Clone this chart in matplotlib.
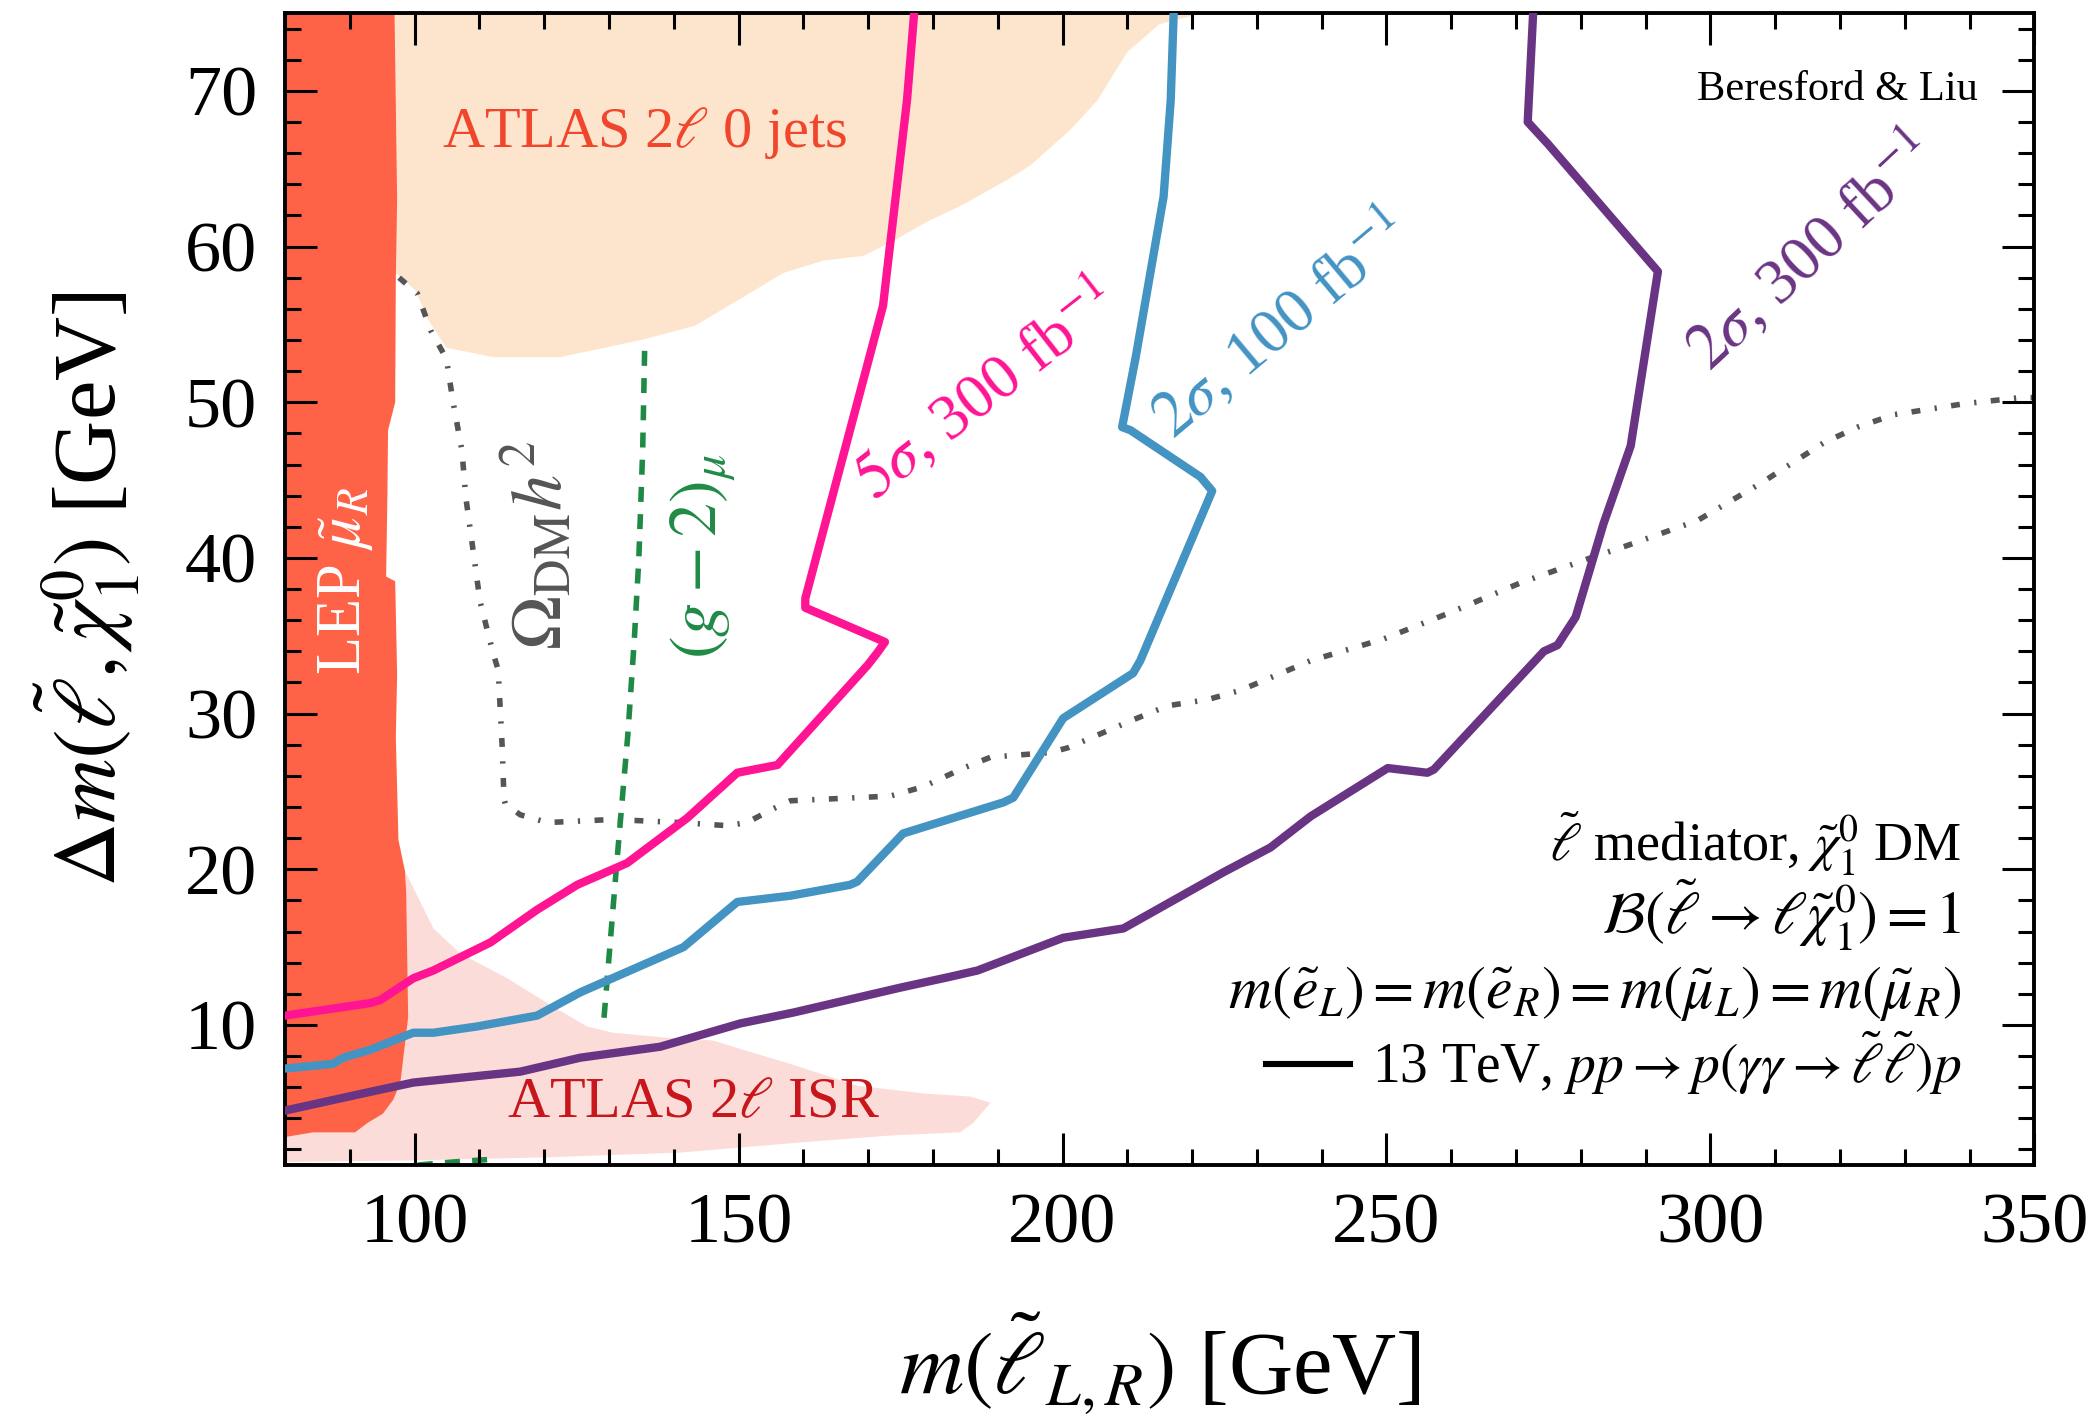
import matplotlib
matplotlib.use("Agg")
import matplotlib.pyplot as plt
from matplotlib.ticker import MultipleLocator
from matplotlib.lines import Line2D

plt.rcParams['font.family'] = ['Liberation Serif', 'DejaVu Serif']
plt.rcParams['mathtext.fontset'] = 'stix'

# excluded regions (x = slepton mass, y = mass splitting, GeV)
lep_x = [80, 96.9, 97.3, 97.1, 97.0, 95.9, 95.8, 95.6, 97.0, 97.3, 97.1, 97.5, 98.5,
         98.7, 99.0, 97.8, 96.7, 95.1, 92.7, 90.8, 88.5, 84.3, 80]
lep_y = [75, 75, 63, 58, 50, 48.2, 44, 38.8, 38.5, 32.5, 28.5, 21.9, 19.9,
         18.5, 10.5, 6.3, 5.2, 4.3, 3.7, 3.1, 3.1, 3.1, 2.8]

isr_x = [80, 99.8, 120.5, 141.0, 158.0, 173.4, 184.2, 186.2, 188.9, 185.8, 178.5, 168.3,
         158.0, 152.3, 146.1, 138.4, 130.6, 126.6, 120.5, 114.3, 107.0, 102.9, 98.5, 97, 80]
isr_y = [1.2, 1.3, 1.5, 1.8, 2.4, 2.9, 3.1, 3.7, 5.0, 5.4, 5.6, 6.1,
         7.5, 8.2, 9.0, 9.2, 9.5, 9.9, 11.4, 13.0, 14.6, 16.2, 19.9, 22, 22]

zeroj_x = [90, 222, 215, 210, 205.4, 201.2, 195.0, 191.5, 184.7, 179.1, 174.5, 169.3, 163.1,
           156.9, 150.1, 143.2, 135.0, 122.5, 112.1, 104.9, 102.1, 100.1, 97.1, 90]
zeroj_y = [75, 75, 74.3, 72.5, 69.4, 67.5, 65.2, 64.3, 62.7, 61.6, 60.5, 59.4, 59.1,
           58.3, 56.6, 54.9, 54.0, 52.9, 52.9, 53.5, 55.3, 57.2, 58.3, 58.3]

# projected sensitivity contours
s5_300_x = [80, 93.1, 94.7, 99.8, 102.9, 111.7, 118.9, 125.1, 132.8, 142.1, 149.8, 156.0,
            169.9, 171.4, 172.6, 160.3, 160.3, 172.3, 173.1, 176.0, 177.2]
s5_300_y = [10.6, 11.4, 11.6, 13.0, 13.5, 15.3, 17.4, 19.0, 20.4, 23.3, 26.2, 26.7,
            33.1, 33.9, 34.6, 36.8, 37.4, 56.2, 59.1, 69.4, 75.5]

s2_100_x = [80, 87.4, 89.0, 93.1, 99.8, 102.9, 109.6, 118.9, 125.6, 141.5, 149.8, 158.0,
            167.2, 168.3, 175.4, 190.9, 192.4, 200.1, 210.9, 212.0, 223.1, 221.3, 210.5,
            209.2, 211.3, 215.6, 216.7, 217.2]
s2_100_y = [7.2, 7.5, 7.9, 8.4, 9.5, 9.5, 9.9, 10.6, 12.1, 15.0, 17.9, 18.3,
            19.0, 19.2, 22.3, 24.3, 24.6, 29.7, 32.6, 33.4, 44.3, 45.2, 48.2,
            48.4, 52.9, 63.2, 69.4, 75.5]

s2_300_x = [80, 92.0, 99.8, 116.3, 125.6, 137.9, 150.3, 158.5, 175.0, 182.7, 186.9, 200.1,
            209.4, 224.8, 232.1, 238.3, 250.2, 256.3, 257.3, 274.3, 276.4, 279.2, 283.5,
            287.7, 291.9, 274.9, 271.8, 272.7]
s2_300_y = [4.5, 5.6, 6.3, 7.0, 7.9, 8.6, 10.1, 10.8, 12.4, 13.1, 13.5, 15.6,
            16.2, 19.8, 21.4, 23.4, 26.5, 26.2, 26.4, 34.0, 34.4, 36.2, 42.2,
            47.2, 58.4, 66.6, 68.0, 75.5]

# relic density and muon g-2 contours
relic_x = [97.6, 100.4, 102.5, 104.9, 105.9, 107.3, 107.9, 110.1, 112.1, 112.9, 113.5, 113.8,
           114.0, 116.3, 120.5, 130.6, 141.0, 148.3, 151.3, 155.4, 158.0, 173.4, 178.5,
           184.7, 188.9, 198.1, 200.8, 210.9, 216.2, 222.4, 227.5, 233.2, 238.3, 249.6,
           259.9, 270.7, 281.5, 287.2, 298.0, 307.8, 317.5, 322.7, 328.3, 339.1, 347.9, 350]
relic_y = [58.0, 57.0, 54.6, 52.8, 50.1, 46.9, 43.9, 37.2, 33.9, 32.8, 28.0, 24.5,
           24.2, 23.5, 23.0, 23.2, 23.0, 22.8, 23.0, 23.9, 24.4, 24.7, 25.3,
           26.5, 27.2, 27.5, 27.8, 29.6, 30.5, 30.9, 31.5, 32.5, 33.4, 34.8,
           36.5, 38.4, 40.0, 40.8, 42.4, 44.8, 47.4, 48.4, 49.2, 49.9, 50.3, 50.3]

gm2_x = [135.5, 135.2, 134.6, 133.9, 132.9, 131.2, 129.1]
gm2_y = [53.3, 46.9, 39.9, 34.7, 28.6, 20.4, 9.8]
gm2_low_x = [100.5, 106, 113]
gm2_low_y = [1.0, 1.2, 1.4]

c_lep = '#ff6347'
c_isr = '#fbdcd8'
c_0j = '#fde5cd'
c_pink = '#ff1493'
c_blue = '#4393c3'
c_purp = '#6a3484'
c_gray = '#555555'
c_green = '#1f8a45'

fig = plt.figure(figsize=(10.495, 7.085), dpi=200)
ax = fig.add_axes([0.1358, 0.1778, 0.8334, 0.8130])

ax.fill(isr_x, isr_y, color=c_isr, lw=0, zorder=1)
ax.fill(zeroj_x, zeroj_y, color=c_0j, lw=0, zorder=1)
ax.fill(lep_x, lep_y, color=c_lep, lw=0, zorder=1.2)

ax.plot(relic_x, relic_y, color=c_gray, lw=2.0, dashes=(1.6, 2.6, 0.4, 2.6), zorder=2)
ax.plot(gm2_x, gm2_y, color=c_green, lw=2.0, dashes=(2.7, 2.2), zorder=2)
ax.plot(gm2_low_x, gm2_low_y, color=c_green, lw=2.0, dashes=(2.7, 2.2), zorder=2)

ax.plot(s5_300_x, s5_300_y, color=c_pink, lw=3.0, zorder=3)
ax.plot(s2_100_x, s2_100_y, color=c_blue, lw=3.0, zorder=3)
ax.plot(s2_300_x, s2_300_y, color=c_purp, lw=3.0, zorder=3)

# region and contour labels
ax.text(104.2, 67.3, r'ATLAS 2$\ell$ 0 jets', color='#f0462c', fontsize=21,
        ha='left', va='center', zorder=4)
ax.text(114.3, 5.0, r'ATLAS 2$\ell$ ISR', color='#c8161d', fontsize=21,
        ha='left', va='center', zorder=4)
ax.text(89.3, 38.5, r'LEP $\tilde{\mu}_R$', color='white', fontsize=22.5,
        ha='center', va='center', rotation=90, zorder=4)
ax.text(119.0, 40.8, r'$\Omega_{\mathrm{DM}}h^2$', color='#555555', fontsize=26,
        ha='center', va='center', rotation=90, zorder=4)
ax.text(144.5, 40.1, r'$(g-2)_\mu$', color=c_green, fontsize=24.5,
        ha='center', va='center', rotation=90, zorder=4)
ax.text(188.0, 50.8, r'$5\sigma$, 300 fb$^{-1}$', color=c_pink, fontsize=23,
        ha='center', va='center', rotation=38, zorder=4)
ax.text(233.5, 55.0, r'$2\sigma$, 100 fb$^{-1}$', color=c_blue, fontsize=23,
        ha='center', va='center', rotation=40, zorder=4)
ax.text(315.5, 59.7, r'$2\sigma$, 300 fb$^{-1}$', color=c_purp, fontsize=23,
        ha='center', va='center', rotation=43, zorder=4)

ax.text(0.968, 0.9245, 'Beresford & Liu', transform=ax.transAxes, fontsize=15.3,
        ha='right', va='baseline')

ax.text(0.9585, 0.263, r'$\tilde{\ell}$ mediator, $\tilde{\chi}_1^0$ DM',
        transform=ax.transAxes, fontsize=19.5, ha='right', va='baseline')
ax.text(0.9585, 0.1997, r'$\mathcal{B}(\tilde{\ell} \to \ell\tilde{\chi}_1^0) = 1$',
        transform=ax.transAxes, fontsize=21.5, ha='right', va='baseline')
ax.text(0.9585, 0.1363,
        r'$m(\tilde{e}_L) = m(\tilde{e}_R) = m(\tilde{\mu}_L) = m(\tilde{\mu}_R)$',
        transform=ax.transAxes, fontsize=21.5, ha='right', va='baseline')

handle = Line2D([], [], color='black', lw=2.2)
leg = ax.legend([handle],
                [r'13 TeV, $pp \to p(\gamma\gamma \to \tilde{\ell}\tilde{\ell})p$'],
                loc='center right', bbox_to_anchor=(0.9585, 0.0885), frameon=False,
                fontsize=20, handlelength=1.51, handletextpad=0.41,
                borderpad=0, borderaxespad=0)

ax.set_xlim(80, 350)
ax.set_ylim(1, 75)
ax.set_xticks([100, 150, 200, 250, 300, 350])
ax.set_yticks([10, 20, 30, 40, 50, 60, 70])
ax.xaxis.set_minor_locator(MultipleLocator(10))
ax.yaxis.set_minor_locator(MultipleLocator(2))
ax.tick_params(which='both', direction='in', top=True, right=True, width=1.1,
               labelsize=26, pad=10)
ax.tick_params(which='major', length=11.5)
ax.tick_params(which='minor', length=5.8)
for s in ax.spines.values():
    s.set_linewidth(1.4)
ax.set_axisbelow(False)

ax.set_xlabel(r'$m(\tilde{\ell}_{L,R})$ [GeV]', fontsize=32, labelpad=19)
ax.set_ylabel(r'$\Delta m(\tilde{\ell}, \tilde{\chi}_1^0)$ [GeV]', fontsize=32, labelpad=16)

fig.savefig('out.png', dpi=200)
